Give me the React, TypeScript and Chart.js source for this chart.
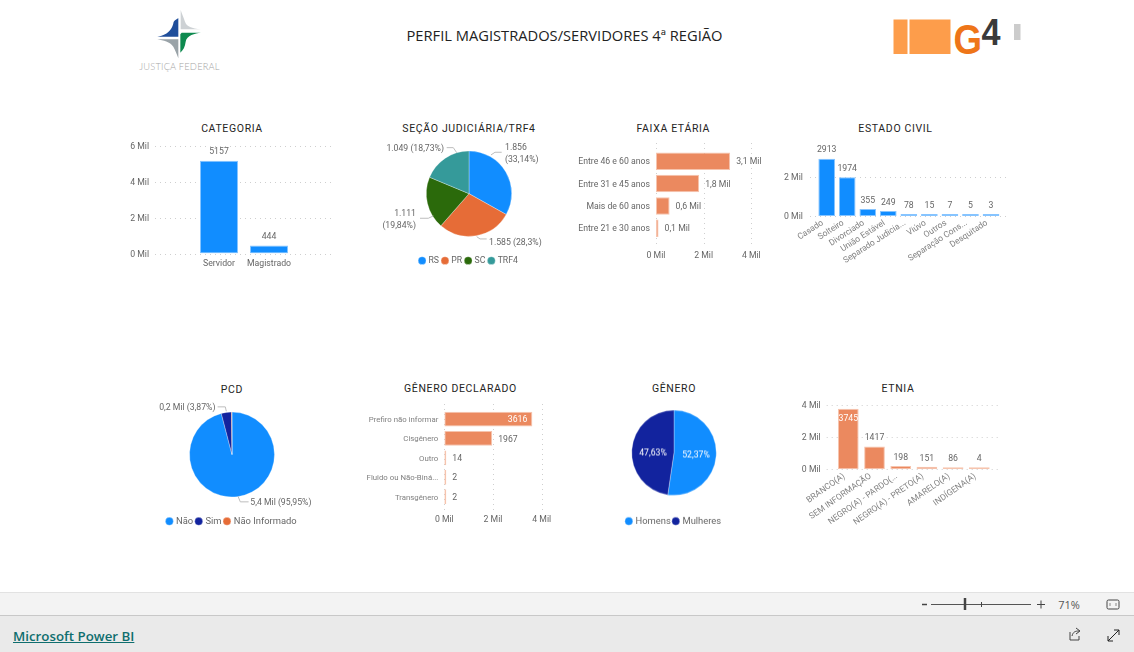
import React, { useEffect, useRef } from "react";
import { Chart, registerables } from "chart.js";

Chart.register(...registerables);

// ---------- data ----------
const categoriaLabels = ["Servidor", "Magistrado"];
const categoriaValues = [5157, 444];
const secaoLabels = ["RS", "PR", "SC", "TRF4"];
const secaoValues = [1856, 1585, 1111, 1049];
const faixaLabels = ["Entre 46 e 60 anos", "Entre 31 e 45 anos", "Mais de 60 anos", "Entre 21 e 30 anos"];
const faixaValues = [3112, 1812, 571, 106];
const civilLabels = ["Casado", "Solteiro", "Divorciado", "União Estável", "Separado Judicia...", "Viúvo", "Outros", "Separação Cons...", "Desquitado"];
const civilValues = [2913, 1974, 355, 249, 78, 15, 7, 5, 3];
const pcdLabels = ["Não", "Sim", "Não Informado"];
const pcdValues = [5374, 217, 10];
const declaradoLabels = ["Prefiro não informar", "Cisgênero", "Outro", "Fluido ou Não-Biná...", "Transgênero"];
const declaradoValues = [3616, 1967, 14, 2, 2];
const generoLabels = ["Homens", "Mulheres"];
const generoValues = [2933, 2668];
const etniaLabels = ["BRANCO(A)", "SEM INFORMAÇÃO", "NEGRO(A) - PARDO(...", "NEGRO(A) - PRETO(A)", "AMARELO(A)", "INDÍGENA(A)"];
const etniaValues = [3745, 1417, 198, 151, 86, 4];
const ticksToSix = [0, 2000, 4000, 6000];
const ticksToFour = [0, 2000, 4000];
const ticksToTwo = [0, 2000];

// ---------- style ----------
const BLUE = "#118DFF";
const BLUE_EDGE = "#86C4FF";
const SALMON = "#EB895F";
const SALMON_EDGE = "#F6C4AE";
const NAVY = "#12239E";
const ORANGE = "#E66C37";
const GREEN = "#2B6A0B";
const TEAL = "#359A9A";
const FONT = "Roboto, sans-serif";
const TXT = "#666666";
const LABEL_SIZE = 8.7;

const mil = (v: number) => (v / 1000).toFixed(1).replace(".", ",") + " Mil";
const dotted = (v: number) => String(v).replace(/\B(?=(\d{3})+$)/g, ".");
const pct = (v: number, t: number) =>
  (v / t * 100).toFixed(2).replace(/0+$/, "").replace(/\.$/, "").replace(".", ",") + "%";

function gridPlugin(from: number, to: number, originX: number, originY: number) {
  return {
    id: "extGrid",
    beforeDatasetsDraw(chart: any) {
      const horizontal = chart.options.indexAxis === "y";
      const scale = horizontal ? chart.scales.x : chart.scales.y;
      const ctx = chart.ctx;
      ctx.save();
      ctx.strokeStyle = "#CFCFCF";
      ctx.lineWidth = 1;
      ctx.setLineDash([1, 4]);
      scale.ticks.forEach((t: any) => {
        const p = Math.round(scale.getPixelForValue(t.value)) + 0.5;
        ctx.beginPath();
        if (horizontal) {
          ctx.moveTo(p, from - originY);
          ctx.lineTo(p, to - originY);
        } else {
          ctx.moveTo(from - originX, p);
          ctx.lineTo(to - originX, p);
        }
        ctx.stroke();
      });
      ctx.restore();
    },
  };
}

function valuePlugin(format: (v: number) => string, insideAbove: number, size: number) {
  return {
    id: "valueLabels",
    afterDatasetsDraw(chart: any) {
      const ctx = chart.ctx;
      const horizontal = chart.options.indexAxis === "y";
      const values = chart.data.datasets[0].data;
      ctx.save();
      ctx.font = `${size}px ${FONT}`;
      ctx.textBaseline = "middle";
      chart.getDatasetMeta(0).data.forEach((bar: any, i: number) => {
        const v = values[i];
        const inside = v >= insideAbove;
        ctx.fillStyle = inside ? "#FFFFFF" : TXT;
        if (horizontal) {
          ctx.textAlign = inside ? "right" : "left";
          ctx.fillText(format(v), bar.x + (inside ? -5 : 6), bar.y + 1);
        } else {
          ctx.textAlign = "center";
          ctx.fillText(format(v), bar.x, bar.y + (inside ? 10 : -8.5));
        }
      });
      ctx.restore();
    },
  };
}

type BarSpec = {
  box: number[];
  area: number[];
  grid: number[];
  labels: string[];
  values: number[];
  color: string;
  edge: string;
  horizontal?: boolean;
  max: number;
  tickValues: number[];
  thickness: number;
  tickPad: number;
  catPad: number;
  rotation?: number;
  catSize?: number;
  catColor?: string;
  format: (v: number) => string;
  insideAbove?: number;
};

function BarBlock({ spec }: { spec: BarSpec }) {
  const ref = useRef<HTMLCanvasElement>(null);
  useEffect(() => {
    const [bl, bt, br, bb] = spec.box;
    const [al, at, ar, ab] = spec.area;
    const fix = (s: any, w?: number, h?: number) => {
      if (w !== undefined) s.width = w;
      if (h !== undefined) s.height = h;
      s.paddingLeft = s.paddingRight = s.paddingTop = s.paddingBottom = 0;
    };
    const catAxis: any = {
      type: "category",
      offset: true,
      grid: { display: false, drawTicks: false },
      border: { display: false },
      ticks: {
        autoSkip: false,
        color: spec.catColor || TXT,
        font: { family: FONT, size: spec.catSize || LABEL_SIZE },
        padding: spec.catPad,
        ...(spec.rotation
          ? { minRotation: spec.rotation, maxRotation: spec.rotation, labelOffset: -4 }
          : { maxRotation: 0, labelOffset: spec.horizontal ? 1 : 0 }),
      },
    };
    const valAxis: any = {
      type: "linear",
      min: 0,
      max: spec.max,
      grid: { display: false, drawTicks: false },
      border: { display: false },
      afterBuildTicks: (s: any) => {
        s.ticks = spec.tickValues.map((value) => ({ value }));
      },
      ticks: {
        color: TXT,
        font: { family: FONT, size: LABEL_SIZE },
        padding: spec.tickPad,
        labelOffset: spec.horizontal ? 0 : 1,
        callback: (v: any) => v / 1000 + " Mil",
      },
    };
    const xAxis = spec.horizontal ? valAxis : catAxis;
    const yAxis = spec.horizontal ? catAxis : valAxis;
    xAxis.afterFit = (s: any) => fix(s, undefined, bb - ab);
    yAxis.afterFit = (s: any) => fix(s, al - bl, undefined);
    const chart = new Chart(ref.current as any, {
      type: "bar",
      data: {
        labels: spec.labels,
        datasets: [
          {
            data: spec.values,
            backgroundColor: spec.color,
            borderColor: spec.edge,
            borderWidth: 1,
            borderSkipped: false,
            minBarLength: 2,
            barPercentage: spec.thickness,
            categoryPercentage: 1,
          },
        ],
      },
      options: {
        indexAxis: spec.horizontal ? "y" : "x",
        animation: false,
        responsive: false,
        layout: { padding: { top: at - bt, right: br - ar, left: 0, bottom: 0 } },
        plugins: { legend: { display: false }, tooltip: { enabled: false } },
        scales: { x: xAxis, y: yAxis },
      } as any,
      plugins: [
        gridPlugin(spec.grid[0], spec.grid[1], bl, bt),
        valuePlugin(spec.format, spec.insideAbove ?? Infinity, LABEL_SIZE),
      ] as any,
    });
    return () => chart.destroy();
  }, []);
  const [l, t, r, b] = spec.box;
  return (
    <canvas
      ref={ref}
      width={r - l}
      height={b - t}
      style={{ position: "absolute", left: l, top: t, width: r - l, height: b - t }}
    />
  );
}

type Callout = {
  index: number;
  leader: number[][];
  x: number;
  y: number;
  align: "left" | "right" | "center";
  split?: boolean;
  white?: boolean;
  text: (v: number, total: number) => string;
};

type PieSpec = {
  center: number[];
  radius: number;
  halfWidth: number;
  halfHeight: number;
  legendHeight: number;
  legendFont: number;
  legendPad: number;
  labels: string[];
  values: number[];
  colors: string[];
  callouts: Callout[];
};

function PieBlock({ spec }: { spec: PieSpec }) {
  const ref = useRef<HTMLCanvasElement>(null);
  const w = spec.halfWidth * 2;
  const h = spec.halfHeight * 2 + spec.legendHeight;
  useEffect(() => {
    const callouts = {
      id: "callouts",
      afterDatasetsDraw(chart: any) {
        const arc = chart.getDatasetMeta(0).data[0];
        const cx = arc.x;
        const cy = arc.y;
        const values = chart.data.datasets[0].data;
        const total = values.reduce((a: number, b: number) => a + b, 0);
        const ctx = chart.ctx;
        ctx.save();
        ctx.font = `${LABEL_SIZE}px ${FONT}`;
        ctx.textBaseline = "middle";
        spec.callouts.forEach((c) => {
          if (c.leader.length) {
            ctx.strokeStyle = "#BDBDBD";
            ctx.lineWidth = 1;
            ctx.beginPath();
            c.leader.forEach((p, i) => (i ? ctx.lineTo(cx + p[0], cy + p[1]) : ctx.moveTo(cx + p[0], cy + p[1])));
            ctx.stroke();
          }
          ctx.fillStyle = c.white ? "#FFFFFF" : TXT;
          ctx.textAlign = c.align;
          const str = c.text(values[c.index], total);
          const ty = cy + c.y + 0.8;
          if (c.split) {
            const k = str.indexOf(" ");
            ctx.fillText(str.slice(0, k), cx + c.x, ty);
            ctx.fillText(str.slice(k + 1), cx + c.x, ty + 12);
          } else {
            ctx.fillText(str, cx + c.x, ty);
          }
        });
        ctx.restore();
      },
    };
    const chart = new Chart(ref.current as any, {
      type: "pie",
      data: {
        labels: spec.labels,
        datasets: [
          {
            data: spec.values,
            backgroundColor: spec.colors,
            borderColor: "rgba(255,255,255,0.6)",
            borderWidth: 0.5,
            radius: spec.radius,
          },
        ],
      },
      options: {
        animation: false,
        responsive: false,
        layout: { padding: 0 },
        plugins: {
          tooltip: { enabled: false },
          legend: {
            position: "bottom",
            labels: {
              usePointStyle: true,
              pointStyle: "circle",
              boxWidth: 4,
              boxHeight: 5.6,
              padding: spec.legendPad,
              color: TXT,
              font: { family: FONT, size: spec.legendFont },
            },
          },
        },
      } as any,
      plugins: [callouts] as any,
    });
    return () => chart.destroy();
  }, []);
  const left = spec.center[0] - spec.halfWidth;
  const top = spec.center[1] - spec.halfHeight;
  return (
    <canvas
      ref={ref}
      width={w}
      height={h}
      style={{ position: "absolute", left, top, width: w, height: h }}
    />
  );
}

const withCount = (v: number, t: number) => `${dotted(v)} (${pct(v, t)})`;
const withMil = (v: number, t: number) => `${mil(v)} (${pct(v, t)})`;
const onlyPct = (v: number, t: number) => pct(v, t);

const bars: BarSpec[] = [
  {
    box: [120, 135, 345, 275], area: [194, 145.5, 294, 253.5], grid: [155, 333],
    labels: categoriaLabels, values: categoriaValues, color: BLUE, edge: BLUE_EDGE,
    max: 6000, tickValues: ticksToSix, thickness: 0.76, tickPad: 45, catPad: 5.5, format: String,
  },
  {
    box: [570, 135, 770, 265], area: [656, 150, 751.3, 239.5], grid: [143, 246],
    labels: faixaLabels, values: faixaValues, color: SALMON, edge: SALMON_EDGE, horizontal: true,
    max: 4000, tickValues: ticksToFour, thickness: 0.78, tickPad: 11, catPad: 6, format: mil,
  },
  {
    box: [775, 135, 1020, 275], area: [816.4, 157, 1001.3, 216], grid: [810, 1008],
    labels: civilLabels, values: civilValues, color: BLUE, edge: BLUE_EDGE,
    max: 3000, tickValues: ticksToTwo, thickness: 0.81, tickPad: 13.5, catPad: 2, rotation: 33, catSize: 8.5, catColor: "#808080", format: String,
  },
  {
    box: [350, 398, 560, 530], area: [444.3, 409.3, 541.7, 506.4], grid: [404, 513],
    labels: declaradoLabels, values: declaradoValues, color: SALMON, edge: SALMON_EDGE, horizontal: true,
    max: 4000, tickValues: ticksToFour, thickness: 0.76, tickPad: 8, catPad: 6, catSize: 7.8, catColor: "#808080", format: String, insideAbove: 3000,
  },
  {
    box: [790, 395, 1015, 540], area: [835.2, 404.7, 992.4, 469.3], grid: [826.7, 1000],
    labels: etniaLabels, values: etniaValues, color: SALMON, edge: SALMON_EDGE,
    max: 4000, tickValues: ticksToFour, thickness: 0.79, tickPad: 14.5, catPad: 2, rotation: 35, catSize: 8.5, catColor: "#808080", format: String, insideAbove: 3000,
  },
];

const pies: PieSpec[] = [
  {
    center: [469, 193.7], radius: 42.7, halfWidth: 90, halfHeight: 58.9, legendHeight: 22.4, legendFont: 8.7, legendPad: 4,
    labels: secaoLabels, values: secaoValues, colors: [BLUE, ORANGE, GREEN, TEAL],
    callouts: [
      { index: 0, leader: [[22, -38.7], [26, -41.4], [32.7, -41.4]], x: 36, y: -46.7, align: "left", split: true, text: withCount },
      { index: 1, leader: [[7.7, 43], [11, 45.3], [17.7, 45.3]], x: 20, y: 48, align: "left", text: withCount },
      { index: 2, leader: [[-35.7, 22.3], [-40.7, 24.6], [-49, 24.6]], x: -53, y: 19.3, align: "right", split: true, text: withCount },
      { index: 3, leader: [[-12.3, -41], [-15.7, -46], [-22.3, -46]], x: -25, y: -45.7, align: "right", text: withCount },
    ],
  },
  {
    center: [231.7, 455], radius: 42.5, halfWidth: 90, halfHeight: 59.2, legendHeight: 21.8, legendFont: 9.4, legendPad: 3.5,
    labels: pcdLabels, values: pcdValues, colors: [BLUE, NAVY, ORANGE],
    callouts: [
      { index: 1, leader: [[-5.7, -43.3], [-6.7, -47.7], [-14.4, -47.7]], x: -16.5, y: -47.3, align: "right", text: withMil },
      { index: 0, leader: [[6, 41.7], [8.3, 47.3], [16.6, 47.3]], x: 18.3, y: 47.3, align: "left", text: withMil },
    ],
  },
  {
    center: [674, 453.3], radius: 42.3, halfWidth: 70, halfHeight: 61.2, legendHeight: 21.2, legendFont: 9.4, legendPad: 3,
    labels: generoLabels, values: generoValues, colors: [BLUE, NAVY],
    callouts: [
      { index: 0, leader: [], x: 22, y: 2.2, align: "center", white: true, text: onlyPct },
      { index: 1, leader: [], x: -21, y: -0.3, align: "center", white: true, text: onlyPct },
    ],
  },
];

const titles: [string, number, number][] = [
  ["CATEGORIA", 232, 128.5],
  ["SEÇÃO JUDICIÁRIA/TRF4", 469, 128.5],
  ["FAIXA ETÁRIA", 673.3, 128.5],
  ["ESTADO CIVIL", 895.5, 128.5],
  ["PCD", 232, 389.5],
  ["GÊNERO DECLARADO", 460.5, 388.5],
  ["GÊNERO", 674, 388.5],
  ["ETNIA", 898, 388.5],
];

function abs(l: number, t: number, w: number, h: number, extra: any = {}) {
  return { position: "absolute", left: l, top: t, width: w, height: h, ...extra } as React.CSSProperties;
}

export default function App() {
  return (
    <div style={{ position: "fixed", left: 0, top: 0, width: 1134, height: 652, overflow: "hidden", background: "#fff" }}>
      {/* Justiça Federal logo */}
      <svg style={abs(120, 0, 120, 80)} viewBox="0 0 360 240">
        <path d="M175,55 L175,110 L112,110 C150,105 158,80 160,70 C162,60 170,58 175,55Z" fill="#1F4E9B" />
        <path d="M181,158 C190,150 195,140 197,125 C200,105 225,100 243,98 L185,98 L181,103Z" fill="#0E8A4F" />
        <path d="M182,30 L182,88 L243,88 C215,85 200,80 195,65 C190,50 185,40 182,30Z" fill="#CDD1D4" />
        <path d="M112,118 L175,118 L175,175 C170,160 165,150 160,140 C150,125 130,122 112,118Z" fill="#9AA3A8" />
      </svg>
      <div style={abs(120, 60, 119, 14, { textAlign: "center", font: "300 9.3px Lato, sans-serif", letterSpacing: 0.2, color: "#A5A5A5", lineHeight: "14px" })}>
        JUSTIÇA FEDERAL
      </div>

      {/* main title */}
      <div style={abs(300, 25, 529, 20, { textAlign: "center", font: "14.7px 'Open Sans', sans-serif", color: "#222", lineHeight: "20px", whiteSpace: "nowrap" })}>
        PERFIL MAGISTRADOS/SERVIDORES 4ª REGIÃO
      </div>

      {/* G4 logo */}
      <svg style={abs(885, 10, 145, 50)} viewBox="885 10 145 50">
        <rect x="893.5" y="19.5" width="14" height="34.5" fill="#FD9D4B" />
        <rect x="909.5" y="19.5" width="41" height="34.5" fill="#FD9D4B" />
        <text x="953.5" y="54" fontFamily="'Liberation Sans', sans-serif" fontWeight="700" fontSize="42" fill="#EE7518" textLength="28.5" lengthAdjust="spacingAndGlyphs">G</text>
        <text x="981.5" y="45" fontFamily="'Liberation Sans', sans-serif" fontWeight="700" fontSize="36" fill="#3A3A3A" textLength="19" lengthAdjust="spacingAndGlyphs">4</text>
        <rect x="1014" y="24" width="6.5" height="16" fill="#CCCCCC" />
      </svg>

      {titles.map(([t, x, y]) => (
        <div
          key={t}
          style={abs(x - 100, y - 8, 200, 16, {
            textAlign: "center",
            font: "400 10.5px Roboto, sans-serif",
            letterSpacing: 0.65,
            lineHeight: "16px",
            color: "#252423",
          })}
        >
          {t}
        </div>
      ))}

      {bars.map((s, i) => (
        <BarBlock key={i} spec={s} />
      ))}
      {pies.map((s, i) => (
        <PieBlock key={i} spec={s} />
      ))}

      {/* Power BI chrome */}
      <div style={abs(0, 592, 1134, 23, { background: "#F3F3F3", borderTop: "1px solid #E2E2E2", boxSizing: "border-box" })} />
      <div style={abs(0, 615, 1134, 37, { background: "#EAEAEA", borderTop: "1px solid #C8C8C8", boxSizing: "border-box" })} />
      <svg style={abs(915, 592, 219, 60)} viewBox="915 592 219 60" fill="none" stroke="#444">
        <path d="M922,604.5 H927" strokeWidth="1.5" />
        <path d="M931,604.5 H1031" stroke="#555" />
        <path d="M965,598 V610" strokeWidth="2.5" />
        <path d="M981.5,602 V607" />
        <path d="M1037,604.5 H1045 M1041,600.5 V608.5" />
        <rect x="1107" y="600" width="12" height="9" rx="1.5" />
        <path d="M1110,603 V606 M1116,603 V606" stroke="#888" />
        <path d="M1070,632 V640 H1079 V636 M1072,636 C1073,632 1075,631 1079,631 M1076,628 L1080,631 L1076,634" />
        <path d="M1108,641 L1119,630 M1114,630 H1119 V635 M1108,636 V641 H1113" stroke="#222" />
      </svg>
      <div style={abs(1050, 597, 38, 16, { font: "11px 'Open Sans', sans-serif", color: "#555", lineHeight: "16px", textAlign: "center" })}>71%</div>
      <div style={abs(13, 626, 140, 20, { font: "600 13.3px 'Open Sans', sans-serif", color: "#0F6E6E", lineHeight: "20px", textDecoration: "underline", whiteSpace: "nowrap" })}>
        Microsoft Power BI
      </div>
    </div>
  );
}
